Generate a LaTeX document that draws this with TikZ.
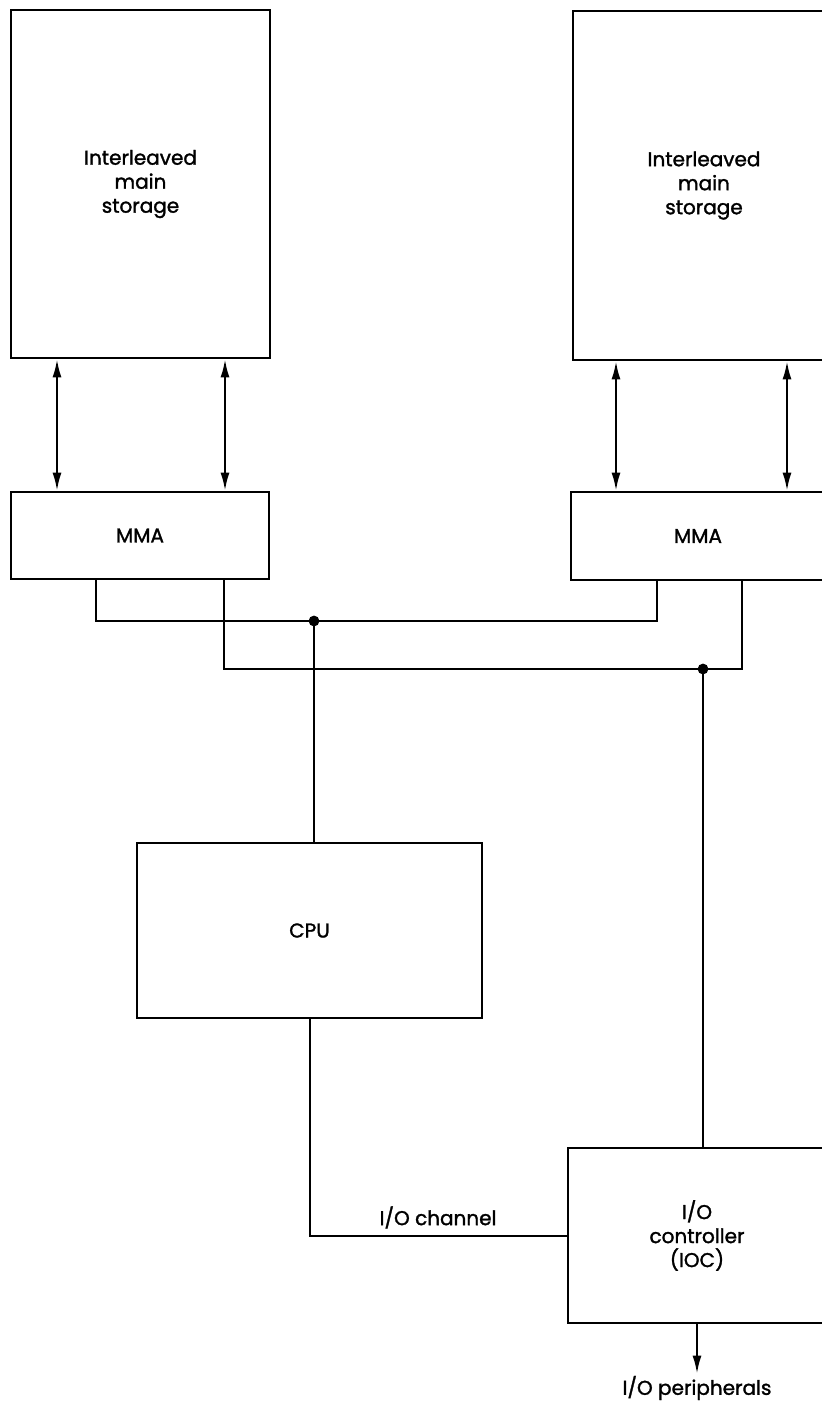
\documentclass[tikz,border=0pt]{standalone}
\usepackage{fontspec}
\setmainfont{Poppins}
\newfontfamily\unitfont[FakeBold=1.5]{Poppins}
\usetikzlibrary{arrows.meta}

\begin{document}
\begin{tikzpicture}[x=0.5pt, y=-0.5pt,
    unit/.style={draw, line width=1.4pt, inner sep=0pt, align=center,
                 font=\unitfont\fontsize{10}{12}\selectfont},
    tag/.style={inner sep=1pt, font=\unitfont\fontsize{10}{12}\selectfont},
    wire/.style={line width=1pt},
    dual/.style={line width=1pt, {Latex[length=9pt,width=4.5pt]}-{Latex[length=9pt,width=4.5pt]}},
    feed/.style={line width=1pt, -{Latex[length=9pt,width=4.5pt]}}]
    \useasboundingbox (0,0) rectangle (822,1403);
    \clip (0,0) rectangle (822,1403);

    % storage and MMA units
    \node[unit, minimum width=129.5pt, minimum height=174pt] (lstore) at (140.5,184) {Interleaved\\main\\storage};
    \node[unit, minimum width=131pt, minimum height=174.5pt] (rstore) at (704,185.5) {Interleaved\\main\\storage};
    \node[unit, minimum width=129pt, minimum height=43.5pt] (lmma) at (140,535.5) {MMA};
    \node[unit, minimum width=127pt, minimum height=44pt] (rmma) at (698,536) {MMA};

    % processor and I/O
    \node[unit, minimum width=172.5pt, minimum height=87.5pt] (cpu) at (309.5,930.5) {CPU};
    \node[unit, minimum width=129pt, minimum height=87.5pt] (ioc) at (697,1235.5) {I/O\\controller\\(IOC)};
    \node[tag] (periph) at (697,1388) {I/O peripherals};

    % bus junctions
    \coordinate (busA) at (314,621);
    \coordinate (busB) at (703,669);

    \draw[dual] (57,0 |- lstore.south) -- (57,0 |- lmma.north);
    \draw[dual] (225,0 |- lstore.south) -- (225,0 |- lmma.north);
    \draw[dual] (616,0 |- rstore.south) -- (616,0 |- rmma.north);
    \draw[dual] (787,0 |- rstore.south) -- (787,0 |- rmma.north);

    \draw[wire] (96,0 |- lmma.south) |- (busA) -| (657,0 |- rmma.south);
    \draw[wire] (224,0 |- lmma.south) |- (busB) -| (742,0 |- rmma.south);
    \draw[wire] (busA) -- (busA |- cpu.north);
    \draw[wire] (busB) -- (busB |- ioc.north);
    \draw[wire] (cpu.south) |- node[tag, pos=0.75, above=2pt] {I/O channel} (ioc.west);
    \draw[feed] (ioc.south) -- (periph.north);

    \fill (busA) circle (2.7pt);
    \fill (busB) circle (2.7pt);
\end{tikzpicture}
\end{document}
